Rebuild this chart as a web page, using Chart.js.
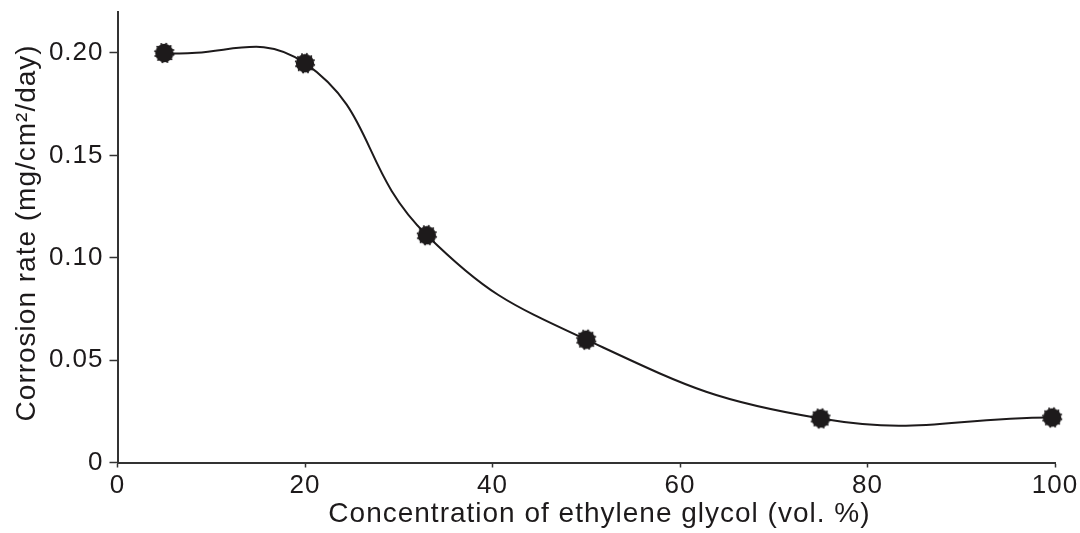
<!DOCTYPE html>
<html>
<head>
<meta charset="utf-8">
<title>Corrosion rate vs ethylene glycol concentration</title>
<script src="https://cdn.jsdelivr.net/npm/chart.js@4/dist/chart.umd.min.js"></script>
<style>
  html, body { margin: 0; padding: 0; background: #ffffff; }
  #wrap { width: 1080px; height: 533px; position: relative; }
</style>
</head>
<body>
<div id="wrap"><canvas id="chart"></canvas></div>
<script>
// Measured corrosion rate at each ethylene glycol concentration
const concentration = [5, 20, 33, 50, 75, 99.7];
const corrosionRate = [0.200, 0.195, 0.111, 0.060, 0.0215, 0.022];

// Axis tick values and their printed labels
const xTicks = [0, 20, 40, 60, 80, 100];
const yTicks = [0, 0.05, 0.10, 0.15, 0.20];
const yTickLabels = ['0', '0.05', '0.10', '0.15', '0.20'];

const xTitle = '   Concentration of ethylene glycol (vol. %)';
const yTitle = ' Corrosion rate (mg/cm\u00B2/day)';

const INK = '#1d1a1b';
const AXIS = '#333333';
const FONT = '"Liberation Sans", Arial, Helvetica, sans-serif';

// Filled dot with a slightly ragged rim, used as the point marker
function makeMarker() {
  const c = document.createElement('canvas');
  const size = 24;
  c.width = size; c.height = size;
  const g = c.getContext('2d');
  const m = size / 2;
  g.fillStyle = INK;
  g.beginPath();
  g.arc(m, m, 9.2, 0, Math.PI * 2);
  g.fill();
  const bumps = 12;
  for (let i = 0; i < bumps; i++) {
    const a = (i / bumps) * Math.PI * 2 + 0.2;
    g.beginPath();
    g.arc(m + Math.cos(a) * 9.4, m + Math.sin(a) * 9.4, 1.0, 0, Math.PI * 2);
    g.fill();
  }
  return c;
}

// Slightly open letter spacing for all chart text
const spacedText = {
  id: 'spacedText',
  beforeInit(chart) { chart.ctx.letterSpacing = '1px'; },
  beforeUpdate(chart) { chart.ctx.letterSpacing = '1px'; }
};

const points = concentration.map((x, i) => ({ x: x, y: corrosionRate[i] }));

new Chart(document.getElementById('chart'), {
  type: 'line',
  data: {
    datasets: [{
      data: points,
      borderColor: INK,
      borderWidth: 2,
      tension: 0.45,
      fill: false,
      clip: false,
      pointStyle: makeMarker(),
      pointRadius: 10,
      pointHoverRadius: 10
    }]
  },
  plugins: [spacedText],
  options: {
    responsive: true,
    maintainAspectRatio: false,
    animation: false,
    events: [],
    layout: { padding: { top: 10, right: 25, bottom: 0, left: 0 } },
    plugins: {
      legend: { display: false },
      tooltip: { enabled: false }
    },
    scales: {
      x: {
        type: 'linear',
        min: 0,
        max: 100,
        afterBuildTicks: s => { s.ticks = xTicks.map(v => ({ value: v })); },
        afterFit: s => { s.height = 70.5; s.paddingLeft = 0; s.paddingRight = 0; },
        border: { display: true, color: AXIS, width: 2 },
        grid: { drawOnChartArea: false, drawTicks: true, tickLength: 5, tickColor: AXIS, tickWidth: 1.5 },
        ticks: {
          color: INK,
          padding: 3,
          maxRotation: 0,
          font: { family: FONT, size: 26 },
          callback: v => String(v)
        },
        title: {
          display: true,
          text: xTitle,
          color: INK,
          font: { family: FONT, size: 28 },
          padding: { top: 0, bottom: 2 }
        }
      },
      y: {
        type: 'linear',
        min: 0,
        max: 0.22,
        afterBuildTicks: s => { s.ticks = yTicks.map(v => ({ value: v })); },
        afterFit: s => { s.width = 117.5; s.paddingTop = 0; s.paddingBottom = 0; },
        border: { display: true, color: AXIS, width: 2 },
        grid: { drawOnChartArea: false, drawTicks: true, tickLength: 8, tickColor: AXIS, tickWidth: 1.5 },
        ticks: {
          color: INK,
          padding: 6,
          font: { family: FONT, size: 26 },
          callback: v => {
            const i = yTicks.findIndex(t => Math.abs(t - v) < 1e-9);
            return i >= 0 ? yTickLabels[i] : '';
          }
        },
        title: {
          display: true,
          text: yTitle,
          color: INK,
          font: { family: FONT, size: 28 },
          padding: { top: 10, bottom: 0 }
        }
      }
    }
  }
});
</script>
</body>
</html>
